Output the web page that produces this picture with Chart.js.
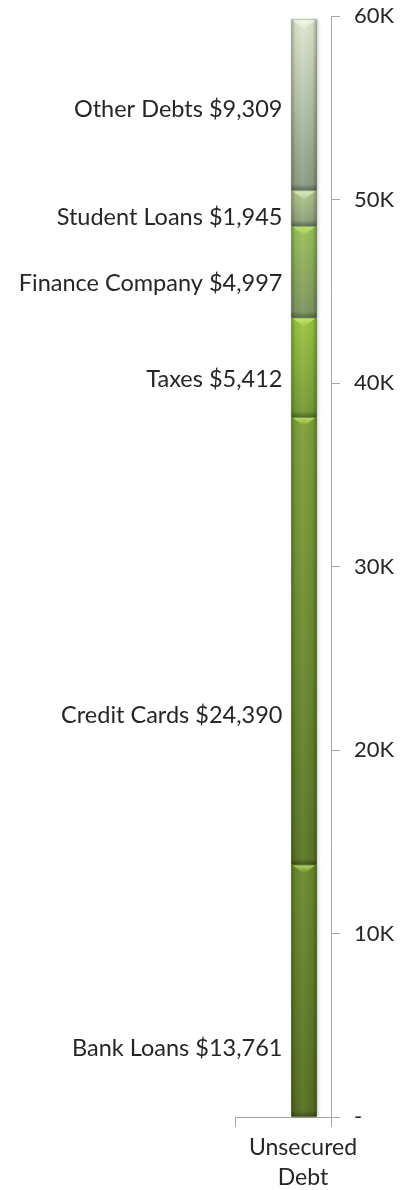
<!DOCTYPE html>
<html lang="en">
<head>
<meta charset="UTF-8">
<title>Unsecured Debt</title>
<script src="https://cdn.jsdelivr.net/npm/chart.js"></script>
<style>
  html, body { margin: 0; padding: 0; background: #fff; }
  #wrap { width: 414px; height: 1190px; }
</style>
</head>
<body>
<div id="wrap"><canvas id="debtChart" width="414" height="1190"></canvas></div>
<script>
const categories = [['Unsecured', 'Debt']];
const debtNames = ['Bank Loans', 'Credit Cards', 'Taxes', 'Finance Company', 'Student Loans', 'Other Debts'];
const debtValues = [13761, 24390, 5412, 4997, 1945, 9309];
// value-axis level where each data label sits
const labelLevels = [3760, 21900, 40200, 45400, 49000, 54900];
const yTicks = [0, 10000, 20000, 30000, 40000, 50000, 60000];
const yTickText = ['-', '10K', '20K', '30K', '40K', '50K', '60K'];

const topColors = ['#6c8a2e', '#7ea03a', '#9cc642', '#9ac257', '#b3cb8e', '#dfe9cf'];
const bottomColors = ['#566f22', '#5b7626', '#749834', '#7d9260', '#8a9b78', '#8b9982'];
const notchColors = ['#b4dc6a', '#bfe66e', '#c8ee72', '#c6ec78', '#e2f0c4', '#f4f9ea'];

const FONT = 'Lato, "Open Sans", sans-serif';
const TEXT = '#262626';
const AXIS = '#a6a6a6';

// spacer stack pushes the real bar to the right half of the category, as in the original
const datasets = [{ label: '', data: [null], stack: 'pad', backgroundColor: 'transparent' }];
debtNames.forEach((name, i) => {
  datasets.push({
    label: name,
    data: [debtValues[i]],
    stack: 'debt',
    backgroundColor: bottomColors[i],
    borderWidth: 0
  });
});

const bevelBars = {
  id: 'bevelBars',
  afterDatasetsDraw(chart) {
    const ctx = chart.ctx;
    for (let d = 1; d < chart.data.datasets.length; d++) {
      const bar = chart.getDatasetMeta(d).data[0];
      if (!bar) continue;
      const i = d - 1;
      const w = bar.width, left = bar.x - w / 2, right = bar.x + w / 2;
      const top = bar.y, bottom = bar.base, h = bottom - top;
      ctx.save();
      // soft shadow round the column
      ctx.shadowColor = 'rgba(0,0,0,0.25)';
      ctx.shadowBlur = 3;
      ctx.shadowOffsetX = 1;
      const vg = ctx.createLinearGradient(0, top, 0, bottom);
      vg.addColorStop(0, topColors[i]);
      vg.addColorStop(1, bottomColors[i]);
      ctx.fillStyle = vg;
      ctx.fillRect(left, top, w, h);
      ctx.shadowColor = 'transparent';
      // rounded sides
      const hg = ctx.createLinearGradient(left, 0, right, 0);
      hg.addColorStop(0, 'rgba(0,0,0,0.28)');
      hg.addColorStop(0.15, 'rgba(0,0,0,0.05)');
      hg.addColorStop(0.45, 'rgba(255,255,255,0.06)');
      hg.addColorStop(0.85, 'rgba(0,0,0,0.05)');
      hg.addColorStop(1, 'rgba(0,0,0,0.3)');
      ctx.fillStyle = hg;
      ctx.fillRect(left, top, w, h);
      // dark seam at the base of each block
      const bg = ctx.createLinearGradient(0, bottom - 6, 0, bottom);
      bg.addColorStop(0, 'rgba(0,0,0,0)');
      bg.addColorStop(1, 'rgba(0,0,0,0.3)');
      ctx.fillStyle = bg;
      ctx.fillRect(left, Math.max(top, bottom - 6), w, Math.min(6, h));
      // light notch at the top of each block
      const tg = ctx.createLinearGradient(0, top, 0, top + 9);
      tg.addColorStop(0, notchColors[i]);
      tg.addColorStop(1, topColors[i]);
      ctx.fillStyle = tg;
      ctx.beginPath();
      ctx.moveTo(left + 1.5, top + 1);
      ctx.lineTo(right - 1.5, top + 1);
      ctx.lineTo(bar.x, top + 9);
      ctx.closePath();
      ctx.fill();
      ctx.restore();
    }
  }
};

const sideLabels = {
  id: 'sideLabels',
  afterDatasetsDraw(chart) {
    const ctx = chart.ctx;
    const y = chart.scales.y;
    const bar = chart.getDatasetMeta(1).data[0];
    const x = bar.x - bar.width / 2 - 9;
    ctx.save();
    ctx.font = '23.5px ' + FONT;
    ctx.fillStyle = TEXT;
    ctx.textAlign = 'right';
    ctx.textBaseline = 'middle';
    debtNames.forEach((name, i) => {
      ctx.fillText(name + ' $' + debtValues[i].toLocaleString('en-US'), x, y.getPixelForValue(labelLevels[i]));
    });
    ctx.restore();
  }
};

new Chart(document.getElementById('debtChart'), {
  type: 'bar',
  data: { labels: categories, datasets: datasets },
  options: {
    responsive: false,
    animation: false,
    devicePixelRatio: 1,
    categoryPercentage: 0.875,
    barPercentage: 0.6,
    layout: { padding: { left: 235, top: 16, right: 0, bottom: 0 } },
    plugins: { legend: { display: false }, tooltip: { enabled: false } },
    scales: {
      x: {
        stacked: true,
        grid: { offset: true, drawOnChartArea: false, color: AXIS, tickLength: 10 },
        border: { color: AXIS },
        ticks: { color: TEXT, font: { family: FONT, size: 23, lineHeight: 1.3 }, labelOffset: 20, padding: 6, maxRotation: 0 },
        afterFit: s => { s.height = 73; }
      },
      y: {
        stacked: true,
        position: 'right',
        min: 0,
        max: 60000,
        afterBuildTicks: s => { s.ticks = yTicks.map(v => ({ value: v })); },
        grid: { drawOnChartArea: false, color: AXIS, tickLength: 9 },
        border: { color: AXIS },
        ticks: {
          color: TEXT,
          font: { family: FONT, size: 22 },
          padding: 14,
          callback: v => yTickText[yTicks.indexOf(v)]
        },
        afterFit: s => { s.width = 83; s.paddingTop = 0; s.paddingBottom = 0; }
      }
    }
  },
  plugins: [bevelBars, sideLabels]
});
</script>
</body>
</html>
